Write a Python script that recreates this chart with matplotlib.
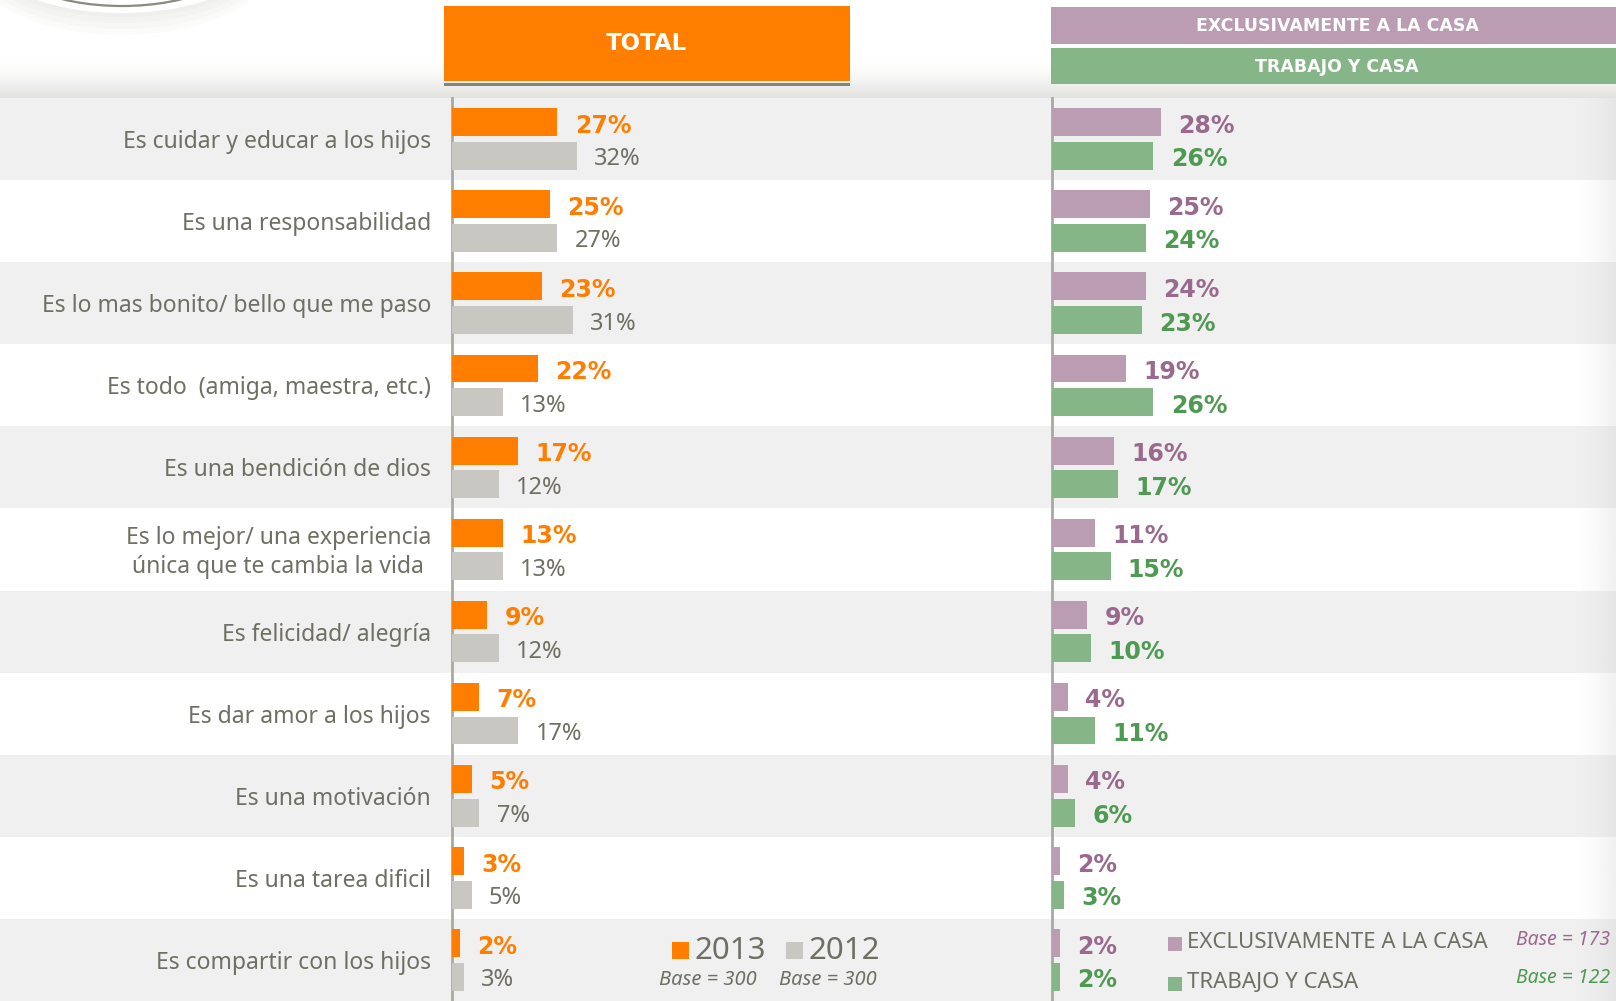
import numpy as np
import matplotlib
matplotlib.use("Agg")
import matplotlib.pyplot as plt
from matplotlib.patches import Rectangle, Ellipse

plt.rcParams['font.family'] = ['Noto Sans', 'DejaVu Sans']
BOLD_FAMILY = ['DejaVu Sans']

# data
categories = [
    "Es cuidar y educar a los hijos",
    "Es una responsabilidad",
    "Es lo mas bonito/ bello que me paso",
    "Es todo  (amiga, maestra, etc.)",
    "Es una bendición de dios",
    "Es lo mejor/ una experiencia\núnica que te cambia la vida",
    "Es felicidad/ alegría",
    "Es dar amor a los hijos",
    "Es una motivación",
    "Es una tarea dificil",
    "Es compartir con los hijos",
]
total_2013 = [27, 25, 23, 22, 17, 13, 9, 7, 5, 3, 2]
total_2012 = [32, 27, 31, 13, 12, 13, 12, 17, 7, 5, 3]
exclusiva_casa = [28, 25, 24, 19, 16, 11, 9, 4, 4, 2, 2]
trabajo_casa = [26, 24, 23, 26, 17, 15, 10, 11, 6, 3, 2]

ORANGE = '#FF7E00'
GRAY_BAR = '#C8C7C2'
TEXT = '#6F6F63'
PURPLE = '#BB9DB3'
PURPLE_TXT = '#9A6A8E'
GREEN = '#86B587'
GREEN_TXT = '#4F9A52'
BAND = '#F0F0F0'
AXLINE = '#A9A9A2'

W, H = 1616, 1001
TOP = 98
PX_PER_PCT = 3.9
FS = 16.5

fig = plt.figure(figsize=(W / 100, H / 100), dpi=100)
fig.patch.set_facecolor('white')

# background in pixel coordinates
bg = fig.add_axes([0, 0, 1, 1])
bg.set_xlim(0, W)
bg.set_ylim(H, 0)
bg.axis('off')

n = len(categories)
row_h = (H - TOP) / n
for i in range(n):
    if i % 2 == 0:
        bg.add_patch(Rectangle((0, TOP + i * row_h), W, row_h, color=BAND, lw=0, zorder=0))

# header gradient
grad = np.linspace(0, 1, 60).reshape(-1, 1)
c0 = np.array([1.0, 1.0, 1.0])
c1 = np.array([0.885, 0.885, 0.87])
img = c0 + (c1 - c0) * grad[..., None] ** 1.5
bg.imshow(img, extent=[0, W, TOP, 60], aspect='auto', zorder=0.5)

# right edge shadow
sh = np.zeros((1, 40, 4))
sh[..., :3] = 0.8
sh[..., 3] = np.linspace(0, 0.5, 40) ** 1.8
bg.imshow(sh, extent=[1570, W, H, TOP], aspect='auto', zorder=0.6)

# logo remnant top-left
for k in range(5):
    bg.add_patch(Ellipse((122, -44), 270 + 10 * k, 110 + 12 * k, color='#909088',
                         alpha=0.035, lw=0, zorder=1))
bg.add_patch(Ellipse((122, -46), 272, 118, facecolor='white', edgecolor='none', zorder=1.1))
bg.add_patch(Ellipse((122, -50), 250, 112, facecolor='white', edgecolor='#8A8A80', lw=1.6, zorder=1.2))

# header boxes
bg.add_patch(Rectangle((444, 6), 406, 75, color=ORANGE, lw=0, zorder=2))
bg.add_patch(Rectangle((444, 83), 406, 2.5, color='#84847A', lw=0, zorder=2))
bg.text(647, 44, "TOTAL", color='white', fontsize=16.5, fontweight='bold', family=BOLD_FAMILY,
        ha='center', va='center', zorder=3)
bg.add_patch(Rectangle((1051, 7), W - 1051, 37, color=PURPLE, lw=0, zorder=2))
bg.add_patch(Rectangle((1051, 48), W - 1051, 36, color=GREEN, lw=0, zorder=2))
bg.text(1337, 26, "EXCLUSIVAMENTE A LA CASA", color='white', fontsize=12.5, fontweight='bold',
        family=BOLD_FAMILY, ha='center', va='center', zorder=3)
bg.text(1337, 67, "TRABAJO Y CASA", color='white', fontsize=12.5, fontweight='bold',
        family=BOLD_FAMILY, ha='center', va='center', zorder=3)

# axis lines
bg.plot([452, 452], [TOP, H], color=AXLINE, lw=2, zorder=3)
bg.plot([1051.5, 1051.5], [TOP, H], color=AXLINE, lw=2, zorder=3)

# row labels
for i, cat in enumerate(categories):
    bg.text(431, TOP + (i + 0.5) * row_h + 3, cat, color=TEXT, fontsize=FS,
            ha='right', va='center', multialignment='center', linespacing=1.25, zorder=3)


def panel(left_px, right_px, s1, s2, c1, c2, t1, t2, bold2):
    ax = fig.add_axes([left_px / W, 0, (right_px - left_px) / W, (H - TOP) / H])
    ax.set_xlim(0, (right_px - left_px) / PX_PER_PCT)
    ax.set_ylim(n - 0.5, -0.5)
    ax.axis('off')
    ax.patch.set_alpha(0)
    y = np.arange(n)
    off, bh = 0.205, 0.34
    ax.barh(y - off, s1, height=bh, color=c1, lw=0, zorder=4)
    ax.barh(y + off, s2, height=bh, color=c2, lw=0, zorder=4)
    for yi, v in zip(y, s1):
        ax.annotate(f"{v}%", xy=(v, yi - off), xytext=(12.5, -2.5), textcoords='offset points',
                    color=t1, fontsize=17, fontweight='bold', family=BOLD_FAMILY,
                    va='center', ha='left')
    for yi, v in zip(y, s2):
        if bold2:
            kw = dict(fontsize=17, fontweight='bold', family=BOLD_FAMILY)
        else:
            kw = dict(fontsize=17)
        ax.annotate(f"{v}%", xy=(v, yi + off), xytext=(12.5, -2.5), textcoords='offset points',
                    color=t2, va='center', ha='left', **kw)
    return ax


panel(452, 1000, total_2013, total_2012, ORANGE, GRAY_BAR, ORANGE, TEXT, False)
panel(1052, W, exclusiva_casa, trabajo_casa, PURPLE, GREEN, PURPLE_TXT, GREEN_TXT, True)

# legends
bg.add_patch(Rectangle((672, 942), 17, 17, color=ORANGE, lw=0, zorder=3))
bg.text(695, 951, "2013", color=TEXT, fontsize=22.5, ha='left', va='center', zorder=3)
bg.add_patch(Rectangle((786, 942), 17, 17, color=GRAY_BAR, lw=0, zorder=3))
bg.text(809, 951, "2012", color=TEXT, fontsize=22.5, ha='left', va='center', zorder=3)
bg.text(708, 980, "Base = 300", color=TEXT, fontsize=14.5, style='italic', ha='center', va='center', zorder=3)
bg.text(828, 980, "Base = 300", color=TEXT, fontsize=14.5, style='italic', ha='center', va='center', zorder=3)

bg.add_patch(Rectangle((1168, 937), 14, 14, color=PURPLE, lw=0, zorder=3))
bg.text(1187, 943, "EXCLUSIVAMENTE A LA CASA", color=TEXT, fontsize=16, ha='left', va='center', zorder=3)
bg.add_patch(Rectangle((1168, 977), 14, 14, color=GREEN, lw=0, zorder=3))
bg.text(1187, 983, "TRABAJO Y CASA", color=TEXT, fontsize=16, ha='left', va='center', zorder=3)
bg.text(1610, 940, "Base = 173", color=PURPLE_TXT, fontsize=14, style='italic', ha='right', va='center', zorder=3)
bg.text(1610, 978, "Base = 122", color=GREEN_TXT, fontsize=14, style='italic', ha='right', va='center', zorder=3)

fig.savefig("out.png", dpi=100)
